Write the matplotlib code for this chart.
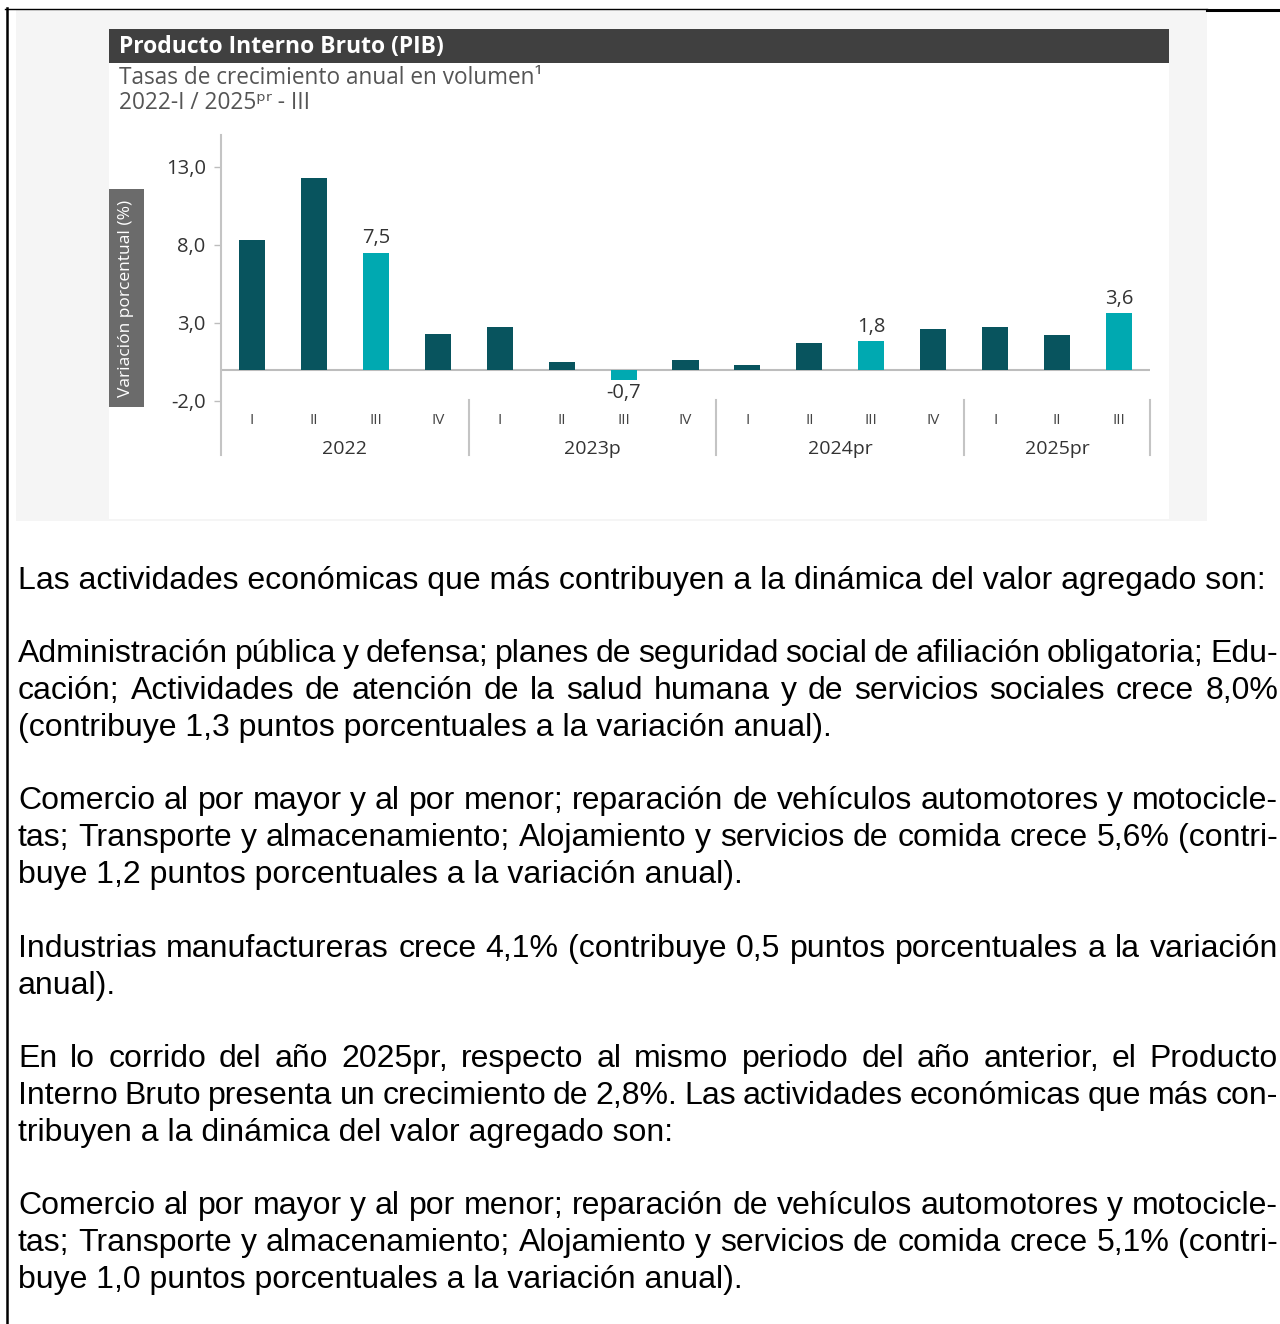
import matplotlib
matplotlib.use("Agg")
from matplotlib import pyplot as plt
from matplotlib.patches import Rectangle

# data
quarters = ["I", "II", "III", "IV", "I", "II", "III", "IV",
            "I", "II", "III", "IV", "I", "II", "III"]
years = ["2022", "2023p", "2024pr", "2025pr"]
year_sizes = [4, 4, 4, 3]
values = [8.3, 12.3, 7.5, 2.3, 2.7, 0.5, -0.7, 0.6,
          0.3, 1.7, 1.8, 2.6, 2.7, 2.2, 3.6]
yticks = [13.0, 8.0, 3.0, -2.0]

title = "Producto Interno Bruto (PIB)"
subtitle1 = "Tasas de crecimiento anual en volumen\u00b9"
subtitle2 = "2022-I / 2025\u1d56\u02b3 - III"
ylabel = "Variación porcentual (%)"

# body text, one entry per paragraph, one string per printed line
paragraphs = [
    ["Las actividades económicas que más contribuyen a la dinámica del valor agregado son:"],
    ["Administración pública y defensa; planes de seguridad social de afiliación obligatoria; Edu-",
     "cación; Actividades de atención de la salud humana y de servicios sociales crece 8,0%",
     "(contribuye 1,3 puntos porcentuales a la variación anual)."],
    ["Comercio al por mayor y al por menor; reparación de vehículos automotores y motocicle-",
     "tas; Transporte y almacenamiento; Alojamiento y servicios de comida crece 5,6% (contri-",
     "buye 1,2 puntos porcentuales a la variación anual)."],
    ["Industrias manufactureras crece 4,1% (contribuye 0,5 puntos porcentuales a la variación",
     "anual)."],
    ["En lo corrido del año 2025pr, respecto al mismo periodo del año anterior, el Producto",
     "Interno Bruto presenta un crecimiento de 2,8%. Las actividades económicas que más con-",
     "tribuyen a la dinámica del valor agregado son:"],
    ["Comercio al por mayor y al por menor; reparación de vehículos automotores y motocicle-",
     "tas; Transporte y almacenamiento; Alojamiento y servicios de comida crece 5,1% (contri-",
     "buye 1,0 puntos porcentuales a la variación anual)."],
]

DARK = "#08545e"
LIGHT = "#00a9b1"
W, H = 1280, 1324

fig = plt.figure(figsize=(W / 100, H / 100), dpi=100)
fig.patch.set_facecolor("white")

# background axes in pixel units (y grows downward)
bg = fig.add_axes([0, 0, 1, 1])
bg.set_xlim(0, W)
bg.set_ylim(H, 0)
bg.axis("off")

bg.add_patch(Rectangle((16, 9), 1191, 512, color="#f5f5f5", lw=0))
bg.add_patch(Rectangle((109, 63), 1060, 456, color="white", lw=0))
bg.add_patch(Rectangle((109, 29), 1060, 34, color="#404040", lw=0))
bg.add_patch(Rectangle((109, 189), 35, 218, color="#6b6b6b", lw=0))
bg.plot([5, 1207], [8.5, 8.5], color="black", lw=1.0)
bg.plot([1207, 1280], [9.5, 9.5], color="black", lw=2.2)
bg.plot([7, 7], [8, H], color="black", lw=1.8)

chart_font = ["Open Sans", "DejaVu Sans"]
bg.text(119, 47, title, color="white", fontsize=16.5, fontweight="bold",
        family=chart_font, va="center", ha="left")
bg.text(119, 78, subtitle1, color="#555555", fontsize=16.3,
        family=chart_font, va="center", ha="left")
bg.text(119, 103, subtitle2, color="#555555", fontsize=16.3,
        family=chart_font, va="center", ha="left")
bg.text(126.5, 298, ylabel, color="white", fontsize=12.5, rotation=90,
        family=chart_font, va="center", ha="center")

# chart axes: spine from y=135 to y=455 px, zero line at 369.5 px
px_per_unit = 15.6
zero_px = 369.5
top_px, bot_px = 135, 455
ax = fig.add_axes([221 / W, 1 - bot_px / H, (1150 - 221) / W, (bot_px - top_px) / H])
ax.set_facecolor("none")
ax.set_xlim(-0.5, len(values) - 0.5)
ax.set_ylim((zero_px - bot_px) / px_per_unit, (zero_px - top_px) / px_per_unit)

colors = [LIGHT if q == "III" else DARK for q in quarters]
xs = list(range(len(values)))
ax.bar(xs, values, width=0.42, color=colors, zorder=3)
ax.axhline(0, color="#bdbdbd", lw=1.5, zorder=2)

for x, v, q in zip(xs, values, quarters):
    if q == "III":
        lbl = ("%.1f" % v).replace(".", ",")
        if v >= 0:
            ax.annotate(lbl, (x, v), xytext=(0, 3), textcoords="offset points",
                        ha="center", va="bottom", fontsize=14.5, color="#333333",
                        family=chart_font)
        else:
            ax.annotate(lbl, (x, v), xytext=(0, -2), textcoords="offset points",
                        ha="center", va="top", fontsize=14.5, color="#333333",
                        family=chart_font)

for s in ["top", "right", "bottom"]:
    ax.spines[s].set_visible(False)
ax.spines["left"].set_color("#c4c4c4")
ax.spines["left"].set_linewidth(1.5)

ax.set_yticks(yticks)
ax.set_yticklabels([("%.1f" % t).replace(".", ",") for t in yticks],
                   family=chart_font, fontsize=14.5, color="#333333")
ax.tick_params(axis="y", length=5, color="#bdbdbd", width=1, pad=6)
ax.set_xticks([])

# category labels under the axis
quarter_y = (zero_px - 420) / px_per_unit
year_y = (zero_px - 449) / px_per_unit
sep_top = (zero_px - 400) / px_per_unit
for x, q in zip(xs, quarters):
    ax.text(x, quarter_y, q, ha="center", va="center", fontsize=11,
            color="#444444", family=chart_font)
start = 0
for yr, n in zip(years, year_sizes):
    ax.text(start + (n - 1) / 2, year_y, yr, ha="center", va="center",
            fontsize=14, color="#333333", family=chart_font)
    end = start + n - 0.5
    ax.plot([end, end], [sep_top, ax.get_ylim()[0]], color="#c4c4c4",
            lw=1.5, clip_on=False)
    start += n

# body text, justified like the source document
body_font = "Liberation Sans"
body_size = 23
left_px, right_px = 18, 1278
line_y = [[581], [654, 691, 728], [801, 838, 875], [949, 986],
          [1059, 1096, 1133], [1206, 1243, 1280]]

renderer = fig.canvas.get_renderer()
for para, ys in zip(paragraphs, line_y):
    for i, (line, y) in enumerate(zip(para, ys)):
        last = i == len(para) - 1
        if last:
            bg.text(left_px, y, line, fontsize=body_size, family=body_font,
                    color="black", ha="left", va="center")
            continue
        words = line.split(" ")
        texts = [bg.text(left_px, y, w, fontsize=body_size, family=body_font,
                         color="black", ha="left", va="center") for w in words]
        widths = [t.get_window_extent(renderer).width for t in texts]
        gap = (right_px - left_px - sum(widths)) / (len(words) - 1)
        x = left_px
        for t, w in zip(texts, widths):
            t.set_x(x)
            x += w + gap

fig.savefig("out.png", dpi=100)
